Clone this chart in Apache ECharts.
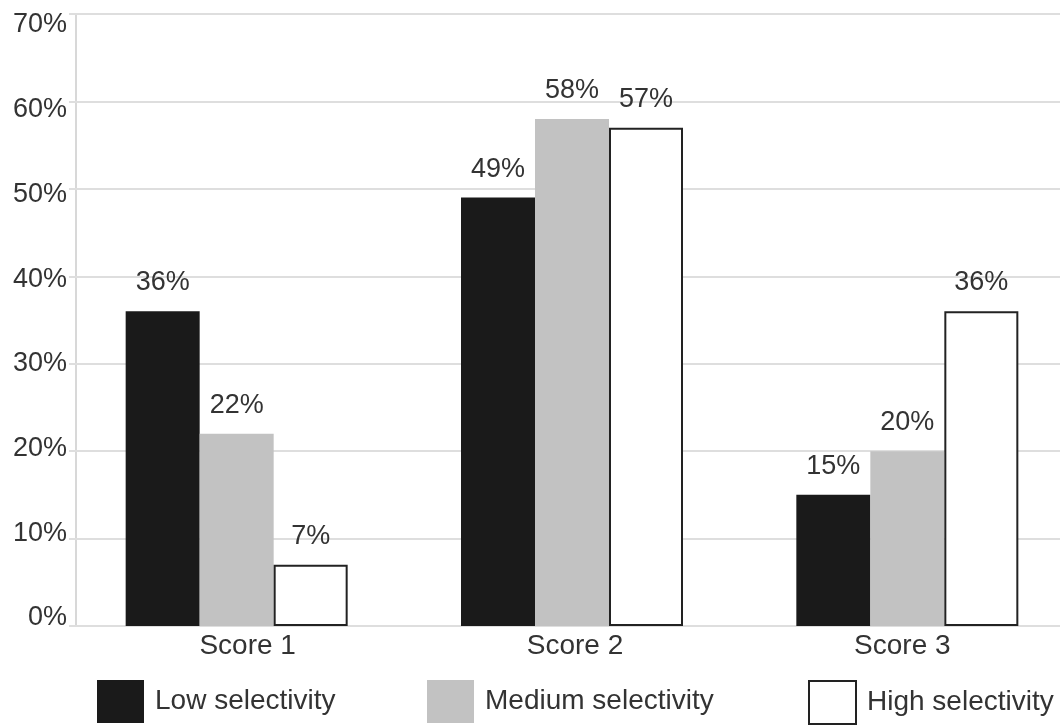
<!DOCTYPE html>
<html>
<head>
<meta charset="utf-8">
<script src="https://cdn.jsdelivr.net/npm/echarts@6/dist/echarts.min.js"></script>
<style>
  html, body { margin: 0; padding: 0; background: #fff; overflow: hidden; }
  /* the plot continues a little past the right edge of the page */
  #chart { width: 1080px; height: 725px; }
</style>
</head>
<body>
<div id="chart"></div>
<script>
// Share of results per score, by selectivity level (percent)
const categories = ['Score 1', 'Score 2', 'Score 3'];
const seriesNames = ['Low selectivity', 'Medium selectivity', 'High selectivity'];
const lowValues = [36, 49, 15];
const mediumValues = [22, 58, 20];
const highValues = [7, 57, 36];
const yTicks = [0, 10, 20, 30, 40, 50, 60, 70];

const FONT = '"Liberation Sans", Arial, sans-serif';
const TEXT = '#333';

const labelStyle = {
  show: true,
  position: 'top',
  distance: 15,
  formatter: '{c}%',
  color: TEXT,
  fontSize: 27,
  fontFamily: FONT
};

const chart = echarts.init(document.getElementById('chart'), null, { renderer: 'canvas' });

const legendBase = {
  top: 675,
  itemWidth: 47,
  itemHeight: 43,
  itemGap: 10,
  icon: 'rect',
  textStyle: { color: TEXT, fontSize: 28, fontFamily: FONT, padding: [0, 0, 0, 6] },
  selectedMode: false
};

chart.setOption({
  animation: false,
  backgroundColor: '#fff',
  grid: [
    // plot area
    { left: 69, width: 1006, top: 14, height: 612, containLabel: false },
    // value-label column, set slightly inside the gridline span
    { left: 69, width: 1006, top: 25, height: 593, containLabel: false },
    // category-label row, evenly spaced under the bar groups
    { left: 84, width: 982, top: 14, height: 612, containLabel: false }
  ],
  legend: [
    Object.assign({}, legendBase, { left: 92, data: [seriesNames[0]] }),
    Object.assign({}, legendBase, { left: 422, data: [seriesNames[1]] }),
    Object.assign({}, legendBase, { left: 803, data: [seriesNames[2]] })
  ],
  xAxis: [
    { type: 'category', gridIndex: 0, data: categories, show: false },
    { type: 'category', gridIndex: 1, data: categories, show: false },
    {
      type: 'category',
      gridIndex: 2,
      data: categories,
      axisLine: { show: false },
      axisTick: { show: false },
      splitLine: { show: false },
      axisLabel: { color: TEXT, fontSize: 28, fontFamily: FONT, margin: 6 }
    }
  ],
  yAxis: [
    {
      type: 'value',
      gridIndex: 0,
      min: yTicks[0],
      max: yTicks[yTicks.length - 1],
      interval: 10,
      axisLine: { show: false },
      axisTick: { show: false },
      axisLabel: { show: false },
      splitLine: { show: true, lineStyle: { color: '#dedede', width: 2 } }
    },
    {
      type: 'value',
      gridIndex: 1,
      min: yTicks[0],
      max: yTicks[yTicks.length - 1],
      interval: 10,
      axisLine: { show: false },
      axisTick: { show: false },
      splitLine: { show: false },
      axisLabel: { color: TEXT, fontSize: 27, fontFamily: FONT, margin: 2, formatter: '{value}%' }
    },
    { type: 'value', gridIndex: 2, min: 0, max: 70, show: false }
  ],
  series: [
    {
      name: seriesNames[0],
      type: 'bar',
      data: lowValues,
      barWidth: 74,
      barGap: '0%',
      itemStyle: { color: '#1a1a1a' },
      label: labelStyle
    },
    {
      name: seriesNames[1],
      type: 'bar',
      data: mediumValues,
      barWidth: 74,
      barGap: '0%',
      itemStyle: { color: '#c2c2c2' },
      label: labelStyle
    },
    {
      name: seriesNames[2],
      type: 'bar',
      data: highValues,
      barWidth: 74,
      barGap: '0%',
      itemStyle: { color: '#ffffff', borderColor: '#222', borderWidth: 2 },
      label: labelStyle
    }
  ],
  graphic: [
    {
      // left frame of the plot area
      type: 'line',
      shape: { x1: 76, y1: 14, x2: 76, y2: 627 },
      style: { stroke: '#d8d8d8', lineWidth: 2 },
      silent: true
    }
  ]
});
</script>
</body>
</html>
